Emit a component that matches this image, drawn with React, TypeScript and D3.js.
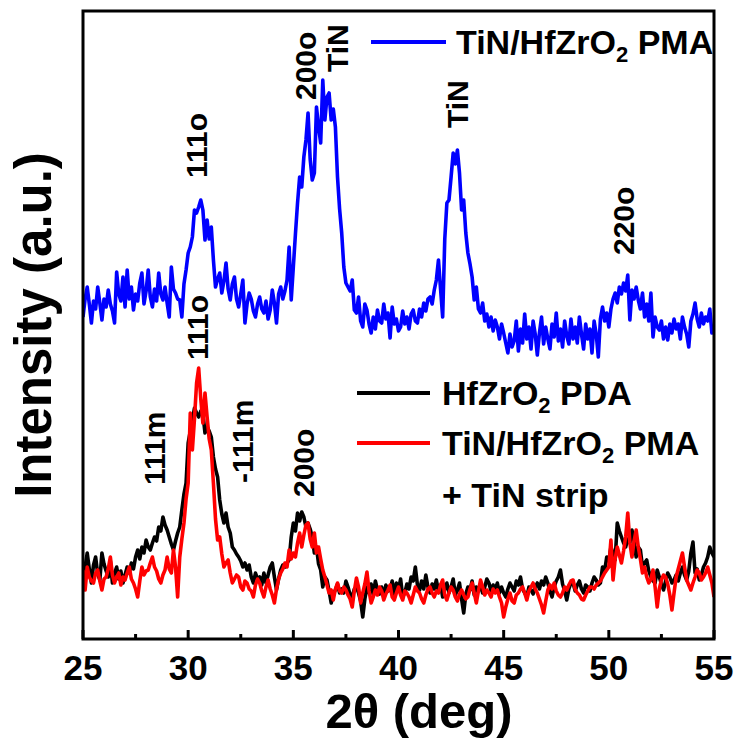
import React from "react";
import * as d3 from "d3";

const X_START = 25;
const X_STEP = 0.1;

const blueSeries = [
  322, 340, 352, 335, 316, 338, 330, 352, 336, 319,
  340, 332, 349, 335, 328, 316, 367, 345, 338, 362,
  332, 369, 340, 352, 329, 345, 338, 356, 366, 335,
  348, 369, 342, 332, 350, 338, 366, 345, 339, 352,
  336, 322, 372, 350, 346, 340, 339, 322, 355, 369,
  386, 392, 402, 429, 426, 432, 439, 429, 399, 419,
  400, 412, 379, 352, 360, 366, 346, 358, 376, 350,
  339, 355, 362, 340, 332, 345, 359, 316, 335, 346,
  340, 328, 322, 335, 342, 330, 326, 338, 320, 329,
  349, 336, 316, 345, 352, 340, 348, 359, 392, 339,
  372, 405, 436, 462, 452, 482, 499, 526, 480, 459,
  466, 532, 512, 496, 559, 519, 542, 546, 519, 530,
  512, 462, 430, 406, 372, 356, 352, 348, 359, 329,
  326, 342, 318, 312, 335, 329, 315, 306, 322, 310,
  329, 318, 316, 335, 320, 326, 301, 332, 315, 320,
  308, 312, 328, 315, 322, 310, 325, 329, 318, 316,
  330, 322, 336, 328, 340, 342, 335, 349, 359, 379,
  350, 322, 400, 436, 439, 462, 486, 475, 489, 466,
  429, 439, 406, 386, 375, 362, 339, 352, 330, 326,
  336, 318, 325, 312, 322, 308, 319, 312, 300, 315,
  306, 296, 286, 305, 292, 298, 318, 288, 310, 296,
  325, 300, 312, 290, 318, 305, 284, 306, 322, 295,
  312, 300, 290, 315, 302, 326, 298, 310, 292, 318,
  303, 295, 320, 300, 312, 296, 322, 305, 290, 315,
  300, 310, 286, 318, 305, 282, 320, 332, 318, 326,
  312, 330, 340, 346, 336, 352, 345, 356, 348, 364,
  319, 349, 340, 352, 339, 330, 346, 322, 335, 318,
  346, 302, 322, 312, 309, 318, 300, 312, 299, 315,
  306, 320, 310, 315, 300, 322, 312, 305, 292, 318,
  325, 336, 320, 312, 326, 315, 322, 318, 330, 306,
  314,
];

const blackSeries = [
  59, 72, 86, 70, 56, 74, 82, 65, 59, 86,
  75, 68, 62, 78, 56, 66, 72, 60, 68, 56,
  64, 72, 66, 76, 70, 82, 89, 80, 92, 86,
  99, 92, 89, 96, 102, 98, 112, 108, 122, 114,
  109, 102, 95, 89, 98, 106, 112, 129, 145, 156,
  196, 208, 219, 231, 226, 222, 228, 226, 206, 212,
  208, 202, 182, 170, 162, 139, 125, 116, 126, 112,
  106, 92, 89, 85, 82, 78, 72, 76, 69, 74,
  62, 56, 66, 60, 62, 54, 66, 56, 64, 72,
  76, 62, 49, 60, 69, 74, 72, 76, 79, 102,
  116, 108, 126, 118, 127, 122, 112, 116, 110, 102,
  86, 92, 75, 69, 52, 62, 59, 48, 36, 45,
  49, 55, 46, 50, 46, 58, 52, 44, 42, 50,
  52, 46, 38, 22, 40, 52, 46, 55, 44, 58,
  49, 45, 52, 42, 54, 48, 49, 58, 44, 56,
  50, 60, 42, 46, 55, 50, 62, 58, 72, 54,
  49, 58, 50, 64, 52, 46, 55, 50, 59, 48,
  54, 42, 50, 56, 46, 52, 60, 44, 49, 56,
  40, 26, 45, 52, 49, 58, 44, 52, 48, 55,
  46, 52, 60, 56, 48, 54, 50, 56, 46, 52,
  46, 42, 50, 56, 52, 48, 58, 54, 62, 50,
  46, 42, 52, 49, 45, 52, 56, 50, 58, 54,
  62, 56, 48, 42, 52, 58, 62, 69, 55, 48,
  39, 50, 56, 56, 48, 54, 58, 50, 46, 54,
  52, 48, 56, 62, 59, 54, 56, 72, 68, 82,
  78, 92, 86, 79, 116, 108, 102, 96, 92, 100,
  96, 109, 98, 82, 92, 89, 72, 76, 79, 68,
  62, 58, 56, 69, 62, 55, 49, 58, 66, 62,
  56, 59, 64, 58, 66, 72, 64, 59, 68, 86,
  97, 66, 70, 59, 64, 72, 76, 82, 92, 86,
  82,
];

const redSeries = [
  69, 49, 72, 62, 58, 56, 66, 69, 58, 49,
  60, 62, 70, 82, 64, 56, 62, 66, 54, 62,
  59, 66, 72, 60, 56, 50, 42, 58, 72, 64,
  68, 69, 76, 82, 72, 68, 60, 56, 64, 69,
  82, 70, 66, 89, 72, 42, 82, 100, 116, 140,
  156, 226, 189, 220, 256, 271, 240, 216, 246, 222,
  200, 189, 156, 120, 99, 102, 85, 72, 76, 79,
  66, 56, 60, 64, 62, 52, 49, 58, 56, 50,
  48, 42, 54, 60, 56, 48, 42, 52, 59, 50,
  44, 36, 50, 60, 66, 70, 76, 72, 89, 80,
  86, 82, 96, 106, 92, 104, 114, 116, 100, 92,
  106, 86, 92, 80, 69, 62, 54, 46, 49, 39,
  50, 56, 48, 46, 52, 49, 44, 40, 32, 48,
  61, 52, 36, 46, 55, 67, 48, 36, 42, 49,
  44, 52, 48, 39, 45, 49, 54, 42, 39, 46,
  52, 44, 39, 48, 46, 42, 36, 44, 52, 48,
  46, 40, 36, 44, 50, 52, 46, 42, 48, 46,
  54, 59, 44, 39, 46, 52, 49, 42, 38, 45,
  49, 44, 40, 42, 50, 56, 46, 36, 48, 59,
  52, 44, 49, 46, 42, 50, 46, 49, 42, 36,
  22, 32, 40, 46, 38, 36, 44, 46, 50, 52,
  46, 39, 48, 52, 56, 50, 46, 40, 34, 26,
  38, 49, 54, 50, 56, 48, 44, 42, 46, 52,
  49, 54, 58, 59, 50, 46, 44, 40, 39, 44,
  48, 52, 52, 50, 54, 56, 58, 62, 66, 69,
  72, 99, 59, 80, 92, 84, 76, 88, 102, 126,
  96, 82, 98, 109, 92, 80, 66, 72, 62, 56,
  60, 69, 52, 32, 50, 59, 64, 62, 55, 44,
  29, 46, 62, 70, 78, 86, 72, 59, 54, 49,
  56, 62, 69, 66, 59, 62, 66, 72, 64, 56,
  42,
];

const majorTicks = [25, 30, 35, 40, 45, 50, 55];
const minorTicks = [27.5, 32.5, 37.5, 42.5, 47.5, 52.5];

const peakLabels = [
  { text: "111o", deg: 30.9, level: 461 },
  { text: "200o", deg: 36.08, level: 539 },
  { text: "TiN", deg: 37.6, level: 567 },
  { text: "TiN", deg: 43.31, level: 511 },
  { text: "220o", deg: 51.2, level: 384 },
  { text: "111o", deg: 30.94, level: 279 },
  { text: "111m", deg: 28.9, level: 154 },
  { text: "-111m", deg: 33.08, level: 156 },
  { text: "200o", deg: 35.98, level: 142 },
];

const FONT = "'Liberation Sans', Arial, Helvetica, sans-serif";

export default function App() {
  const W = 737;
  const H = 745;
  const left = 83, right = 714, top = 11, bottom = 639;
  const x = d3.scaleLinear().domain([25, 55]).range([left, right]);
  const y = d3.scaleLinear().domain([0, 628]).range([bottom, top]);

  const mk = (arr: number[]) =>
    d3
      .line<number>()
      .x((_, i) => x(X_START + i * X_STEP))
      .y((v) => y(v))(arr) || "";

  const legend = (ly: number, color: string, parts: React.ReactNode, x1: number, x2: number, tx: number) => (
    <g>
      <line x1={x1} x2={x2} y1={ly} y2={ly} stroke={color} strokeWidth={4} />
      <text x={tx} y={ly + 12} fontFamily={FONT} fontWeight="bold" fontSize={34} fill="#000">
        {parts}
      </text>
    </g>
  );

  const hfzro = (suffix: string) => (
    <>
      HfZrO
      <tspan fontSize={22} dy={8}>2</tspan>
      <tspan dy={-8}>{" " + suffix}</tspan>
    </>
  );

  return (
    <svg width={W} height={H} style={{ display: "block", position: "absolute", left: 0, top: 0 }}>
      <rect width={W} height={H} fill="#fff" />
      <defs>
        <clipPath id="plot">
          <rect x={left} y={top} width={right - left} height={bottom - top} />
        </clipPath>
      </defs>
      <g clipPath="url(#plot)" fill="none" strokeLinejoin="round">
        <path d={mk(blueSeries)} stroke="#0000ff" strokeWidth={3.6} />
        <path d={mk(blackSeries)} stroke="#000000" strokeWidth={3.6} />
        <path d={mk(redSeries)} stroke="#ff0000" strokeWidth={3.6} />
      </g>
      <rect x={left} y={top} width={right - left} height={bottom - top} fill="none" stroke="#000" strokeWidth={3} />
      {majorTicks.map((t) => (
        <g key={"M" + t}>
          <line x1={x(t)} x2={x(t)} y1={bottom} y2={bottom - 9} stroke="#000" strokeWidth={3} />
          <text x={x(t)} y={680} textAnchor="middle" fontFamily={FONT} fontWeight="bold" fontSize={35}>
            {t}
          </text>
        </g>
      ))}
      {minorTicks.map((t) => (
        <line key={"m" + t} x1={x(t)} x2={x(t)} y1={bottom} y2={bottom - 5} stroke="#000" strokeWidth={3} />
      ))}
      {peakLabels.map((p, i) => (
        <text
          key={"p" + i}
          transform={`translate(${x(p.deg)},${y(p.level)}) rotate(-90)`}
          fontFamily={FONT}
          fontWeight="bold"
          fontSize={30}
          fill="#000"
        >
          {p.text}
        </text>
      ))}
      {legend(42, "#0000ff", <>TiN/{hfzro("PMA")}</>, 371, 446, 456)}
      {legend(393, "#000000", hfzro("PDA"), 357, 430, 442)}
      {legend(443, "#ff0000", <>TiN/{hfzro("PMA")}</>, 357, 430, 442)}
      <text x={442} y={507} fontFamily={FONT} fontWeight="bold" fontSize={34}>
        + TiN strip
      </text>
      <text
        transform={`translate(51,325) rotate(-90)`}
        textAnchor="middle"
        fontFamily={FONT}
        fontWeight="bold"
        fontSize={51}
      >
        Intensity (a.u.)
      </text>
      <text x={419} y={728} textAnchor="middle" fontFamily={FONT} fontWeight="bold" fontSize={49}>
        2θ (deg)
      </text>
    </svg>
  );
}
